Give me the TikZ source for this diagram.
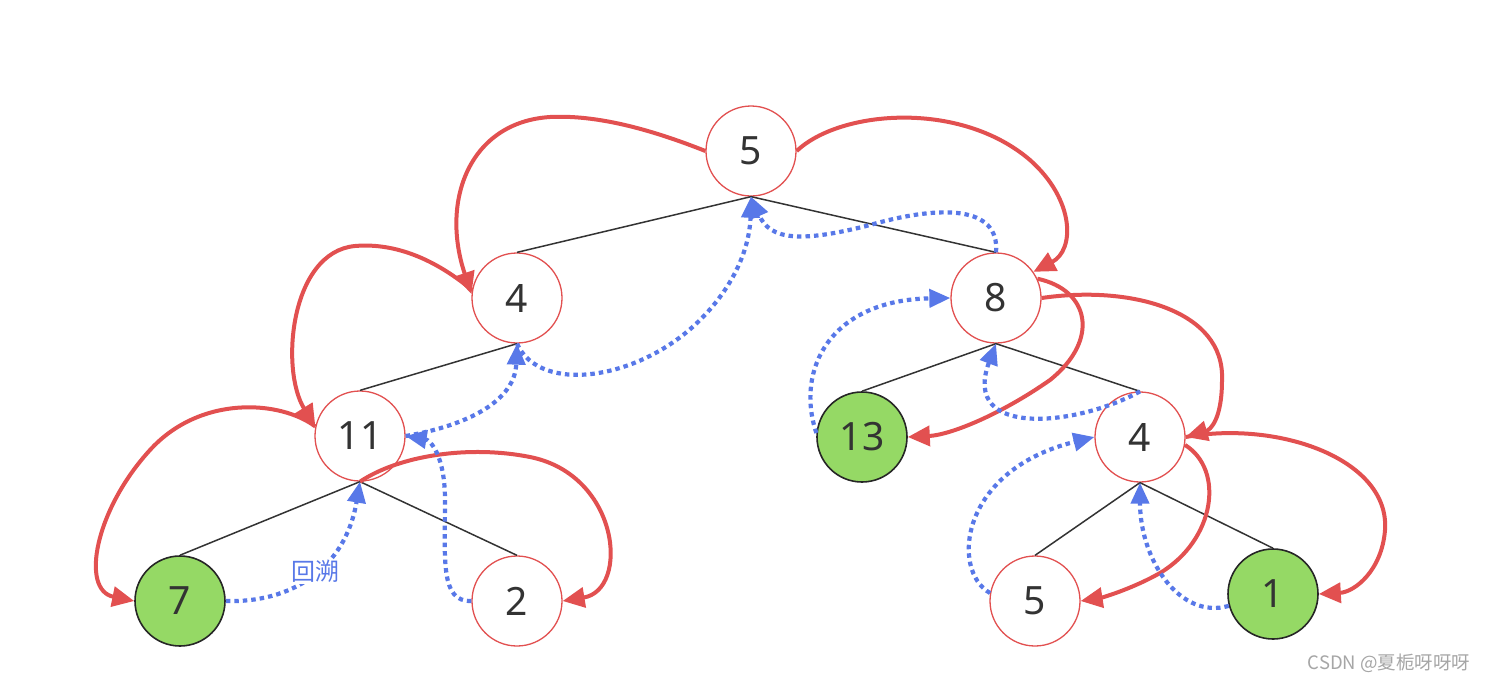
\documentclass[tikz,border=0pt]{standalone}
\usepackage{fontspec}
\setmainfont{Noto Sans}
\newfontfamily\cjk{Noto Sans CJK SC}
\usetikzlibrary{arrows.meta}
\definecolor{redl}{RGB}{226,80,80}
\definecolor{bluel}{RGB}{88,120,232}
\definecolor{greenf}{RGB}{149,217,101}
\definecolor{txt}{RGB}{51,51,51}
\begin{document}
\begin{tikzpicture}[x=1pt,y=-1pt,
 tnode/.style={circle,minimum size=90pt,inner sep=0pt,draw=redl,line width=1.3pt,fill=white,text=txt,font=\fontsize{39}{41}\selectfont},
 leaf/.style={tnode,draw=black!85,fill=greenf,line width=1.6pt},
 tree/.style={draw=black!80,line width=1.5pt},
 visit/.style={draw=redl,line width=4pt,-{Triangle[length=22pt,width=20pt]}},
 back/.style={draw=bluel,line width=4.2pt,dash pattern=on 4.5pt off 4pt,-{Triangle[length=21pt,width=18pt]}},
 lbl/.style={fill=white,inner sep=1pt,text=bluel,font=\cjk\fontsize{24}{26}\selectfont},
]
\useasboundingbox[fill=white] (0,0) rectangle (1490,683);

% nodes
\node[tnode] (r5)  at (751,151) {5};
\node[tnode] (l4)  at (517,298) {4};
\node[tnode] (r8)  at (996,298) {8};
\node[tnode] (n11) at (360,436) {11};
\node[leaf]  (n13) at (862,437) {13};
\node[tnode] (rr4) at (1140,437) {4};
\node[leaf]  (n7)  at (180,601) {7};
\node[tnode] (n2)  at (517,601) {2};
\node[tnode] (n5b) at (1035,601) {5};
\node[leaf]  (n1)  at (1273,594) {1};

% tree edges
\draw[tree] (r5.south) -- (l4.north);
\draw[tree] (r5.south) -- (r8.north);
\draw[tree] (l4.south) -- (n11.north);
\draw[tree] (n11.south) -- (n7.north);
\draw[tree] (n11.south) -- (n2.north);
\draw[tree] (r8.south) -- (n13.north);
\draw[tree] (r8.south) -- (rr4.north);
\draw[tree] (rr4.south) -- (n5b.north);
\draw[tree] (rr4.south) -- (n1.north);

% visiting (red)
\draw[visit] (r5.west) .. controls (640,125) and (590,115) .. (550,117)
  .. controls (470,122) and (440,200) .. (l4.175);
\draw[visit] (l4.170) .. controls (430,255) and (390,243) .. (355,246)
  .. controls (290,252) and (280,370) .. (n11.168);
\draw[visit] (n11.168) .. controls (280,400) and (200,395) .. (150,450)
  .. controls (95,510) and (80,590) .. (n7.west);
\draw[visit] (n11.south) .. controls (400,455) and (470,445) .. (530,457)
  .. controls (620,475) and (630,590) .. (n2.east);
\draw[visit] (r5.east) .. controls (840,110) and (960,100) .. (1030,160)
  .. controls (1075,200) and (1075,250) .. (r8.35);
\draw[visit] (r8.25) .. controls (1090,290) and (1100,340) .. (1050,380)
  .. controls (1000,415) and (950,435) .. (n13.east);
\draw[visit] (r8.east) .. controls (1130,285) and (1225,310) .. (1222,380)
  .. controls (1222,420) and (1210,430) .. (rr4.east);
\draw[visit] (rr4.-10) .. controls (1225,470) and (1215,540) .. (1160,573)
  .. controls (1130,590) and (1100,598) .. (n5b.east);
\draw[visit] (rr4.east) .. controls (1280,420) and (1390,460) .. (1385,530)
  .. controls (1382,570) and (1355,592) .. (n1.east);

% backtracking (blue dotted)
\draw[back] (n7.east) .. controls (290,603) and (345,570) .. node[lbl,pos=0.53] (bt) {回溯} (n11.south);
\draw[back] (n2.west) .. controls (440,602) and (445,560) .. (445,500)
  .. controls (445,455) and (430,440) .. (n11.east);
\draw[back] (n11.east) .. controls (470,425) and (515,400) .. (l4.south);
\draw[back] (l4.south) .. controls (540,395) and (640,380) .. (700,320)
  .. controls (740,280) and (750,240) .. (r5.south);
\draw[back] (r8.north) .. controls (1000,205) and (940,205) .. (870,225)
  .. controls (800,243) and (770,240) .. (r5.south);
\draw[back] (n13.175) .. controls (795,370) and (830,300) .. (r8.west);
\draw[back] (rr4.north) .. controls (1080,425) and (960,440) .. (r8.south);
\draw[back] (n5b.170) .. controls (950,570) and (960,470) .. (rr4.west);
\draw[back] (n1.195) .. controls (1180,620) and (1140,560) .. (rr4.south);

% watermark
\node[text=black!35,font=\cjk\fontsize{18.5}{20}\selectfont] (wm) at (1389,663) {CSDN @夏栀呀呀呀};
\end{tikzpicture}
\end{document}
